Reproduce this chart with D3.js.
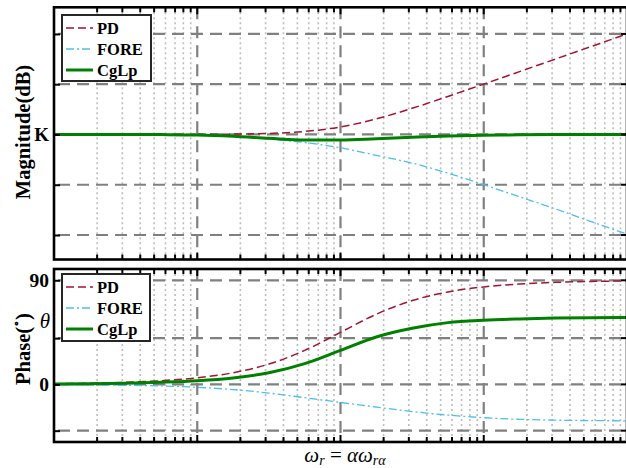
<!DOCTYPE html>
<html>
<head>
<meta charset="utf-8">
<script src="https://cdn.jsdelivr.net/npm/d3@7/dist/d3.min.js"></script>
<style>
  html, body { margin: 0; padding: 0; background: #fff; }
  svg { display: block; }
  text { font-family: "Liberation Serif", "Times New Roman", serif; }
</style>
</head>
<body>
<svg id="chart" width="626" height="468"></svg>
<script>
// ---------------- data ----------------
const omega = [1, 1.778, 3.162, 5.623, 10, 17.78, 31.62, 56.23, 100, 177.8, 316.2, 562.3, 1000, 1778, 3162, 5623, 10000];
const magPD   = [0, 0, 0, 0, 0.04, 0.14, 0.41, 1.19, 3.01, 6.19, 10.41, 15.14, 20.04, 25.01, 30.0, 35.0, 40.0];
const magFORE = [0, 0, 0, -0.05, -0.2, -0.7, -1.8, -3.2, -5.3, -8.3, -11.4, -15.4, -20.0, -24.8, -29.6, -34.7, -39.6];
const magCgLp = [0, 0, 0, -0.05, -0.2, -0.7, -1.5, -2.2, -2.2, -1.7, -1.1, -0.6, -0.3, -0.15, -0.05, 0, 0];
const phPD   = [0.57, 1.02, 1.81, 3.22, 5.71, 10.08, 17.55, 29.36, 45, 60.64, 72.45, 79.92, 84.29, 86.78, 88.19, 88.98, 89.43];
const phFORE = [-0.3, -0.5, -0.8, -1.3, -2.5, -4.5, -7.5, -11.5, -15.6, -19.6, -23.5, -26.5, -28.8, -30.2, -30.9, -31.3, -31.5];
const phCgLp = [0.3, 0.5, 1.0, 1.9, 3.2, 5.6, 10.0, 17.9, 29.4, 41.0, 48.5, 53.4, 55.5, 56.6, 57.3, 57.7, 57.9];

const seriesNames = ["PD", "FORE", "CgLp"];
const magTicks = [-40, -20, 0, 20, 40];
const magTickLabels = ["", "", "K", "", ""];
const phTicks = [-40, 0, 40, 90];
const phTickLabels = ["", "0", "", "90"];
const thetaValue = 55.5;
const thetaLabel = "θ";
const xDomain = [1, 10000];
const magDomain = [-49.75, 50.6];
const phDomain = [-49.8, 99.75];

// ---------------- styles ----------------
const styles = {
  PD:   { color: "#A2142F", width: 1.5, dash: "8,4" },
  FORE: { color: "#4DBEEE", width: 1.3, dash: "8,3,2,3" },
  CgLp: { color: "#008000", width: 3,   dash: null }
};

const svg = d3.select("#chart");
const left = 54, right = 627;
const x = d3.scaleLog().domain(xDomain).range([left, right]);

const minorVals = [];
const majorVals = [];
for (let e = 0; e < 4; e++) {
  const base = Math.pow(10, e);
  if (e > 0) majorVals.push(base);
  for (let m = 2; m <= 9; m++) minorVals.push(base * m);
}

function panel(cfg) {
  const y = d3.scaleLinear().domain(cfg.domain).range([cfg.bottom, cfg.top]);
  const g = svg.append("g");
  const clipId = "clip" + cfg.id;
  svg.append("clipPath").attr("id", clipId).append("rect")
    .attr("x", left).attr("y", cfg.top).attr("width", right - left).attr("height", cfg.bottom - cfg.top);

  // minor dotted grid
  g.append("g").selectAll("line").data(minorVals).join("line")
    .attr("x1", d => x(d)).attr("x2", d => x(d))
    .attr("y1", cfg.top).attr("y2", cfg.bottom)
    .attr("stroke", "#bdbdbd").attr("stroke-width", 1.6).attr("stroke-dasharray", "2,3");
  // major dashed grid vertical
  g.append("g").selectAll("line").data(majorVals).join("line")
    .attr("x1", d => x(d)).attr("x2", d => x(d))
    .attr("y1", cfg.top).attr("y2", cfg.bottom)
    .attr("stroke", "#808080").attr("stroke-width", 2.2).attr("stroke-dasharray", "12,7");
  // major dashed grid horizontal
  g.append("g").selectAll("line").data(cfg.ticks).join("line")
    .attr("x1", left).attr("x2", right)
    .attr("y1", d => y(d)).attr("y2", d => y(d))
    .attr("stroke", "#808080").attr("stroke-width", 2.2).attr("stroke-dasharray", "12,7")
    .attr("stroke-dashoffset", -4);

  // curves
  const line = d3.line().x(d => x(d[0])).y(d => y(d[1])).curve(d3.curveMonotoneX);
  const cg = g.append("g").attr("clip-path", `url(#${clipId})`);
  cfg.series.forEach((vals, i) => {
    const st = styles[seriesNames[i]];
    cg.append("path")
      .datum(omega.map((w, k) => [w, vals[k]]))
      .attr("d", line)
      .attr("fill", "none")
      .attr("stroke", st.color)
      .attr("stroke-width", st.width)
      .attr("stroke-dasharray", st.dash);
  });

  // ticks on top and bottom (inward)
  const tg = g.append("g").attr("stroke", "#000").attr("stroke-width", 2);
  [[minorVals, 5], [majorVals, 7]].forEach(([vals, len]) => {
    tg.append("g").selectAll("line").data(vals).join("line")
      .attr("x1", d => x(d)).attr("x2", d => x(d))
      .attr("y1", cfg.top).attr("y2", cfg.top + len);
    tg.append("g").selectAll("line").data(vals).join("line")
      .attr("x1", d => x(d)).attr("x2", d => x(d))
      .attr("y1", cfg.bottom).attr("y2", cfg.bottom - len);
  });
  // left axis with labels
  const ax = d3.axisLeft(y).tickValues(cfg.ticks).tickSize(-6).tickPadding(5)
    .tickFormat((d, i) => cfg.labels[i]);
  const axg = g.append("g").attr("transform", `translate(${left},0)`).call(ax);
  axg.select(".domain").remove();
  axg.selectAll(".tick line").attr("stroke", "#000").attr("stroke-width", 2);
  axg.selectAll(".tick text")
    .attr("font-family", cfg.digitFont ? '"DejaVu Serif", serif' : '"Liberation Serif", "Times New Roman", serif')
    .attr("font-weight", "bold").attr("font-size", cfg.digitFont ? 19.5 : 19).attr("fill", "#000");
  // right ticks
  tg.append("g").selectAll("line").data(cfg.ticks).join("line")
    .attr("x1", right).attr("x2", right - 6)
    .attr("y1", d => y(d)).attr("y2", d => y(d));

  // frame
  g.append("rect").attr("x", left).attr("y", cfg.top)
    .attr("width", right - left).attr("height", cfg.bottom - cfg.top)
    .attr("fill", "none").attr("stroke", "#000").attr("stroke-width", 2.6);

  // legend
  const lg = g.append("g").attr("transform", `translate(${cfg.legend[0]},${cfg.legend[1]})`);
  lg.append("rect").attr("x", 0).attr("y", 0).attr("width", cfg.legend[2]).attr("height", cfg.legend[3])
    .attr("fill", "#fff").attr("stroke", "#262626").attr("stroke-width", 2);
  seriesNames.forEach((n, i) => {
    const st = styles[n];
    const yy = 13 + i * 21;
    lg.append("line").attr("x1", 4).attr("x2", 31).attr("y1", yy).attr("y2", yy)
      .attr("stroke", st.color).attr("stroke-width", st.width).attr("stroke-dasharray", st.dash);
    lg.append("text").attr("x", 35).attr("y", yy).attr("dy", "0.35em")
      .attr("font-weight", "bold").attr("font-size", 16.5).text(n);
  });
  return y;
}

panel({ id: "m", top: 7.3, bottom: 259.5, domain: magDomain, ticks: magTicks, labels: magTickLabels,
        series: [magPD, magFORE, magCgLp], legend: [62, 15, 89, 66], digitFont: false });
const yPh = panel({ id: "p", top: 269, bottom: 442, domain: phDomain, ticks: phTicks, labels: phTickLabels,
        series: [phPD, phFORE, phCgLp], legend: [62, 274, 88, 67], digitFont: true });

// theta label
svg.append("text").attr("x", 50).attr("y", yPh(thetaValue)).attr("dy", "0.35em")
  .attr("text-anchor", "end").attr("font-style", "italic").attr("font-size", 21).text(thetaLabel);

// y labels
svg.append("text").attr("transform", "translate(30,132) rotate(-90)")
  .attr("text-anchor", "middle").attr("font-weight", "bold").attr("font-size", 20.5)
  .text("Magnitude(dB)");
const pl = svg.append("text").attr("transform", "translate(30,349) rotate(-90)")
  .attr("text-anchor", "middle").attr("font-weight", "bold").attr("font-size", 20.5);
pl.append("tspan").text("Phase(");
pl.append("tspan").attr("font-size", 11).attr("dy", -10).text("∘");
pl.append("tspan").attr("dy", 10).text(")");

// x label
const xl = svg.append("text").attr("x", 345).attr("y", 462).attr("text-anchor", "middle")
  .attr("font-size", 21);
xl.append("tspan").attr("font-style", "italic").text("ω");
xl.append("tspan").attr("font-style", "italic").attr("font-size", 14).attr("dy", 3).text("r");
xl.append("tspan").attr("dy", -3).text(" = ");
xl.append("tspan").attr("font-style", "italic").text("αω");
xl.append("tspan").attr("font-style", "italic").attr("font-size", 14).attr("dy", 3).text("rα");
</script>
</body>
</html>
